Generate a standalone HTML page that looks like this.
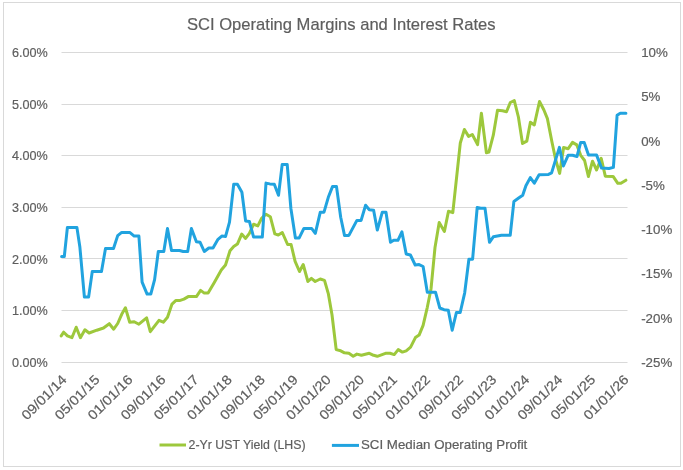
<!DOCTYPE html>
<html><head><meta charset="utf-8"><style>
html,body{margin:0;padding:0;background:#fff;width:683px;height:470px;overflow:hidden}
svg{display:block;will-change:transform}
text{font-family:"Liberation Sans",sans-serif;stroke:#5e5e5e;stroke-width:0.2px}
</style></head><body>
<svg width="683" height="470" viewBox="0 0 683 470">
<rect x="3.5" y="2.5" width="677" height="464" fill="#fff" stroke="#D9D9D9" stroke-width="1"/>
<line x1="61.5" y1="52.5" x2="627.5" y2="52.5" stroke="#D9D9D9" stroke-width="1"/>
<line x1="61.5" y1="104.5" x2="627.5" y2="104.5" stroke="#D9D9D9" stroke-width="1"/>
<line x1="61.5" y1="155.5" x2="627.5" y2="155.5" stroke="#D9D9D9" stroke-width="1"/>
<line x1="61.5" y1="207.5" x2="627.5" y2="207.5" stroke="#D9D9D9" stroke-width="1"/>
<line x1="61.5" y1="258.5" x2="627.5" y2="258.5" stroke="#D9D9D9" stroke-width="1"/>
<line x1="61.5" y1="310.5" x2="627.5" y2="310.5" stroke="#D9D9D9" stroke-width="1"/>
<line x1="61.5" y1="362.5" x2="627.5" y2="362.5" stroke="#D9D9D9" stroke-width="1"/>
<text x="187" y="29.9" font-size="17" fill="#5e5e5e" textLength="308.6" lengthAdjust="spacingAndGlyphs">SCI Operating Margins and Interest Rates</text>
<text class="ll" x="47.8" y="56.90" font-size="13.3" fill="#5e5e5e" text-anchor="end" textLength="35.8" lengthAdjust="spacingAndGlyphs">6.00%</text>
<text class="ll" x="47.8" y="108.60" font-size="13.3" fill="#5e5e5e" text-anchor="end" textLength="35.8" lengthAdjust="spacingAndGlyphs">5.00%</text>
<text class="ll" x="47.8" y="160.30" font-size="13.3" fill="#5e5e5e" text-anchor="end" textLength="35.8" lengthAdjust="spacingAndGlyphs">4.00%</text>
<text class="ll" x="47.8" y="211.90" font-size="13.3" fill="#5e5e5e" text-anchor="end" textLength="35.8" lengthAdjust="spacingAndGlyphs">3.00%</text>
<text class="ll" x="47.8" y="263.60" font-size="13.3" fill="#5e5e5e" text-anchor="end" textLength="35.8" lengthAdjust="spacingAndGlyphs">2.00%</text>
<text class="ll" x="47.8" y="315.30" font-size="13.3" fill="#5e5e5e" text-anchor="end" textLength="35.8" lengthAdjust="spacingAndGlyphs">1.00%</text>
<text class="ll" x="47.8" y="367.00" font-size="13.3" fill="#5e5e5e" text-anchor="end" textLength="35.8" lengthAdjust="spacingAndGlyphs">0.00%</text>
<text class="rl" x="641.2" y="56.90" font-size="13.3" fill="#5e5e5e" >10%</text>
<text class="rl" x="641.2" y="101.20" font-size="13.3" fill="#5e5e5e" >5%</text>
<text class="rl" x="641.2" y="145.50" font-size="13.3" fill="#5e5e5e" >0%</text>
<text class="rl" x="641.2" y="189.80" font-size="13.3" fill="#5e5e5e" >-5%</text>
<text class="rl" x="641.2" y="234.10" font-size="13.3" fill="#5e5e5e" >-10%</text>
<text class="rl" x="641.2" y="278.40" font-size="13.3" fill="#5e5e5e" >-15%</text>
<text class="rl" x="641.2" y="322.70" font-size="13.3" fill="#5e5e5e" >-20%</text>
<text class="rl" x="641.2" y="367.00" font-size="13.3" fill="#5e5e5e" >-25%</text>
<text class="dl" transform="translate(67.40,380.5) rotate(-45)" x="0" y="0" font-size="13.5" fill="#5e5e5e" text-anchor="end" textLength="57" lengthAdjust="spacingAndGlyphs">09/01/14</text>
<text class="dl" transform="translate(100.46,380.5) rotate(-45)" x="0" y="0" font-size="13.5" fill="#5e5e5e" text-anchor="end" textLength="57" lengthAdjust="spacingAndGlyphs">05/01/15</text>
<text class="dl" transform="translate(133.52,380.5) rotate(-45)" x="0" y="0" font-size="13.5" fill="#5e5e5e" text-anchor="end" textLength="57" lengthAdjust="spacingAndGlyphs">01/01/16</text>
<text class="dl" transform="translate(166.58,380.5) rotate(-45)" x="0" y="0" font-size="13.5" fill="#5e5e5e" text-anchor="end" textLength="57" lengthAdjust="spacingAndGlyphs">09/01/16</text>
<text class="dl" transform="translate(199.64,380.5) rotate(-45)" x="0" y="0" font-size="13.5" fill="#5e5e5e" text-anchor="end" textLength="57" lengthAdjust="spacingAndGlyphs">05/01/17</text>
<text class="dl" transform="translate(232.70,380.5) rotate(-45)" x="0" y="0" font-size="13.5" fill="#5e5e5e" text-anchor="end" textLength="57" lengthAdjust="spacingAndGlyphs">01/01/18</text>
<text class="dl" transform="translate(265.76,380.5) rotate(-45)" x="0" y="0" font-size="13.5" fill="#5e5e5e" text-anchor="end" textLength="57" lengthAdjust="spacingAndGlyphs">09/01/18</text>
<text class="dl" transform="translate(298.82,380.5) rotate(-45)" x="0" y="0" font-size="13.5" fill="#5e5e5e" text-anchor="end" textLength="57" lengthAdjust="spacingAndGlyphs">05/01/19</text>
<text class="dl" transform="translate(331.88,380.5) rotate(-45)" x="0" y="0" font-size="13.5" fill="#5e5e5e" text-anchor="end" textLength="57" lengthAdjust="spacingAndGlyphs">01/01/20</text>
<text class="dl" transform="translate(364.94,380.5) rotate(-45)" x="0" y="0" font-size="13.5" fill="#5e5e5e" text-anchor="end" textLength="57" lengthAdjust="spacingAndGlyphs">09/01/20</text>
<text class="dl" transform="translate(398.00,380.5) rotate(-45)" x="0" y="0" font-size="13.5" fill="#5e5e5e" text-anchor="end" textLength="57" lengthAdjust="spacingAndGlyphs">05/01/21</text>
<text class="dl" transform="translate(431.06,380.5) rotate(-45)" x="0" y="0" font-size="13.5" fill="#5e5e5e" text-anchor="end" textLength="57" lengthAdjust="spacingAndGlyphs">01/01/22</text>
<text class="dl" transform="translate(464.12,380.5) rotate(-45)" x="0" y="0" font-size="13.5" fill="#5e5e5e" text-anchor="end" textLength="57" lengthAdjust="spacingAndGlyphs">09/01/22</text>
<text class="dl" transform="translate(497.18,380.5) rotate(-45)" x="0" y="0" font-size="13.5" fill="#5e5e5e" text-anchor="end" textLength="57" lengthAdjust="spacingAndGlyphs">05/01/23</text>
<text class="dl" transform="translate(530.24,380.5) rotate(-45)" x="0" y="0" font-size="13.5" fill="#5e5e5e" text-anchor="end" textLength="57" lengthAdjust="spacingAndGlyphs">01/01/24</text>
<text class="dl" transform="translate(563.30,380.5) rotate(-45)" x="0" y="0" font-size="13.5" fill="#5e5e5e" text-anchor="end" textLength="57" lengthAdjust="spacingAndGlyphs">09/01/24</text>
<text class="dl" transform="translate(596.36,380.5) rotate(-45)" x="0" y="0" font-size="13.5" fill="#5e5e5e" text-anchor="end" textLength="57" lengthAdjust="spacingAndGlyphs">05/01/25</text>
<text class="dl" transform="translate(629.42,380.5) rotate(-45)" x="0" y="0" font-size="13.5" fill="#5e5e5e" text-anchor="end" textLength="57" lengthAdjust="spacingAndGlyphs">01/01/26</text>
<polyline points="61.2,335.9 63.7,332.2 67.4,335.9 71.9,337.7 76.2,327.2 80.4,337.7 84.9,329.7 89.1,333.0 96.8,330.2 103.5,328.0 109.3,323.7 113.7,329.2 117.7,323.5 121.7,314.3 125.4,307.8 129.7,322.2 134.2,321.7 138.9,324.2 146.6,317.8 150.3,331.7 159.0,320.3 163.3,322.2 167.5,317.3 172.0,304.1 175.7,300.6 179.5,300.6 183.9,299.1 188.2,296.6 196.4,296.6 200.6,290.4 204.3,293.1 208.1,293.1 214.3,282.4 221.3,270.0 225.5,265.0 230.0,250.8 233.7,246.6 237.4,244.1 241.7,234.1 245.6,238.4 249.4,233.4 253.6,224.2 257.8,225.9 261.8,218.0 266.0,214.2 270.3,216.7 274.8,233.9 278.3,235.0 282.3,232.5 287.6,244.5 291.1,244.5 295.1,261.4 299.5,271.5 303.2,264.5 307.9,281.5 311.4,278.4 315.2,281.5 320.2,279.0 324.5,280.4 328.3,293.6 332.0,314.7 336.2,349.6 340.7,350.8 344.5,352.8 348.9,353.3 353.2,356.3 356.9,354.1 361.4,355.3 369.3,353.3 373.6,355.3 377.3,356.3 385.5,353.3 390.0,353.3 394.2,354.6 398.2,349.6 402.4,352.1 406.2,350.8 410.6,347.1 415.4,337.6 419.1,335.1 423.1,325.4 427.3,307.3 431.0,289.0 435.0,247.5 439.2,222.6 444.4,231.4 448.5,211.2 452.8,212.6 460.3,143.0 464.4,129.5 468.6,136.4 472.3,134.5 477.6,144.6 481.4,113.2 486.4,152.8 488.9,152.1 493.3,135.2 497.5,110.3 502.5,110.7 506.5,111.7 510.3,102.5 514.3,100.6 518.4,117.0 522.5,143.4 526.8,141.1 530.4,122.2 534.3,124.9 539.5,101.5 543.9,110.0 547.4,118.6 552.0,142.2 555.7,159.7 559.6,173.4 563.6,147.5 568.2,148.7 572.5,142.4 576.8,144.9 580.7,155.3 584.6,160.5 588.4,176.5 592.5,161.2 596.6,170.0 601.2,158.3 605.3,176.2 613.1,176.4 617.8,183.3 620.9,183.3 625.9,180.2" fill="none" stroke="#9DC83C" stroke-width="3" stroke-linejoin="round" stroke-linecap="round"/>
<polyline points="61.6,256.6 64.3,256.6 67.4,227.4 76.9,227.4 79.9,247.3 84.4,297.1 88.6,297.1 92.3,271.4 101.5,271.4 105.5,248.5 113.5,248.5 117.7,235.6 121.7,232.4 129.7,232.4 134.2,236.1 138.9,236.1 142.1,282.1 147.1,294.1 150.8,294.1 154.6,279.6 158.3,251.5 163.8,251.5 167.5,228.6 171.5,250.5 179.5,250.5 183.2,251.5 187.7,251.5 191.4,228.6 196.4,241.8 200.1,242.3 204.3,251.5 208.8,248.0 213.0,248.0 218.0,239.3 221.8,236.1 225.5,236.6 229.5,222.2 233.7,184.3 237.4,184.3 241.9,192.3 245.6,220.9 249.4,221.4 253.6,237.1 262.3,237.1 266.0,183.1 269.8,183.9 274.3,184.3 278.5,195.3 282.2,164.4 287.2,164.4 290.9,208.5 295.4,237.9 299.2,237.9 303.9,228.4 311.6,228.4 315.3,233.4 320.3,212.2 324.0,212.2 328.3,197.3 332.5,186.6 336.5,186.6 340.7,217.2 344.5,235.4 348.9,235.4 356.9,220.4 361.1,220.4 365.6,205.3 369.3,209.7 373.6,210.2 377.3,230.1 382.3,212.2 386.0,212.2 390.5,242.3 393.7,240.3 397.9,240.3 401.9,231.9 406.2,254.0 410.4,255.0 415.2,265.0 419.1,264.6 423.1,266.5 427.3,292.2 435.5,292.2 439.8,308.0 444.0,309.7 448.3,310.2 452.2,330.2 456.4,312.5 460.2,312.5 464.7,292.8 468.9,259.2 472.6,259.2 477.2,207.5 480.7,208.3 485.0,208.3 489.5,242.3 493.3,236.8 501.5,235.3 510.2,235.3 513.9,201.4 518.3,198.3 522.7,195.2 525.9,185.7 530.3,177.6 534.3,183.2 539.1,174.8 548.5,174.4 551.6,172.9 559.4,147.4 563.4,166.0 568.2,155.2 572.6,155.2 577.0,156.5 580.7,142.4 584.2,142.6 588.5,155.1 596.6,155.1 601.6,168.1 609.0,168.5 613.4,167.4 617.1,115.3 620.3,113.2 625.9,113.2" fill="none" stroke="#21A3DF" stroke-width="3" stroke-linejoin="round" stroke-linecap="round"/>
<line x1="159.5" y1="445" x2="186" y2="445" stroke="#9DC83C" stroke-width="3"/>
<text x="188.6" y="449.1" font-size="13" fill="#5e5e5e" textLength="117" lengthAdjust="spacingAndGlyphs">2-Yr UST Yield (LHS)</text>
<line x1="331.9" y1="445.4" x2="359" y2="445.4" stroke="#21A3DF" stroke-width="3"/>
<text x="361" y="449.1" font-size="13" fill="#5e5e5e" textLength="166.3" lengthAdjust="spacingAndGlyphs">SCI Median Operating Profit</text>
</svg>
</body></html>
